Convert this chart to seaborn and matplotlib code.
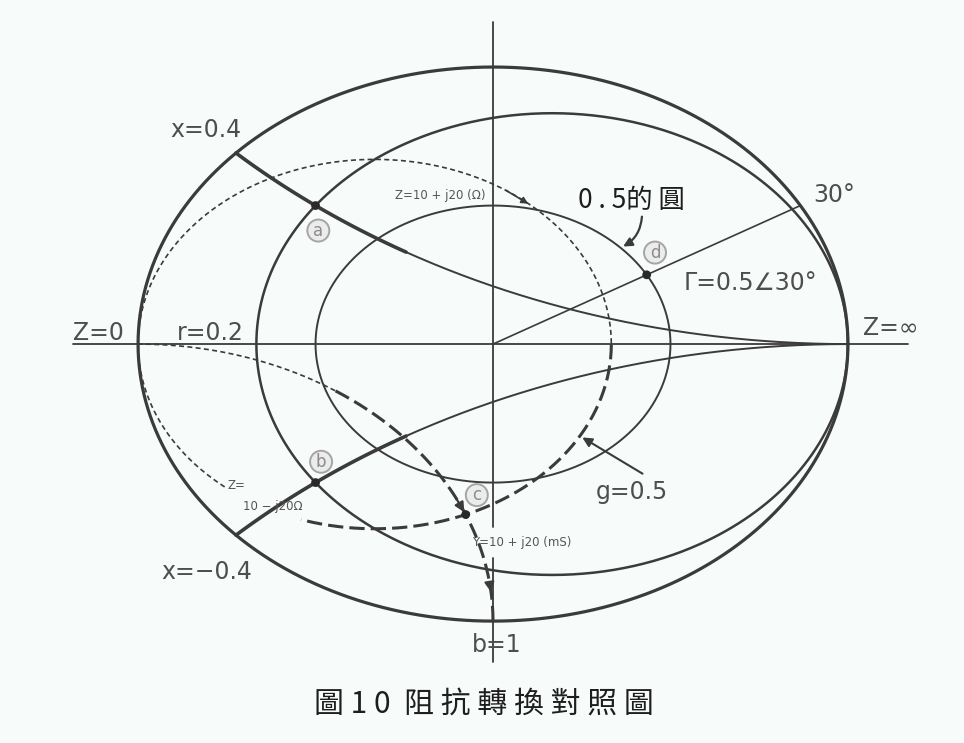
import numpy as np
import matplotlib
matplotlib.use("Agg")
import matplotlib.pyplot as plt
import seaborn as sns

# ---- Smith-chart quantities shown in the figure ----
Z0 = 50.0                                  # reference impedance (Ω)
resistance_values = [0.2]                  # normalised r circles
reactance_values = [0.4, -0.4]             # normalised x arcs
conductance_values = [0.5]                 # normalised g circles (admittance side)
susceptance_values = [1.0]                 # normalised b arcs (admittance side)
gamma_magnitude = 0.5                      # |Γ| circle
gamma_angle_deg = 30                       # angle of Γ for point d
Z_a = complex(10, 20)                      # Ω
Z_b = complex(10, -20)                     # Ω
Y_c = complex(10e-3, 20e-3)                # S

LINE = "#3b3b3b"
TEXT = "#4e4e4e"
BG = "#f7fbf9"


def z_to_gamma(z):
    return (z - 1) / (z + 1)


def y_to_gamma(y):
    return (1 - y) / (1 + y)


def curve(ax, g, **kw):
    kw.setdefault("color", LINE)
    sns.lineplot(x=np.real(g), y=np.imag(g), sort=False, estimator=None,
                 legend=False, ax=ax, **kw)


sns.set_theme(style="white")
plt.rcParams["font.family"] = ["DejaVu Sans"]

fig = plt.figure(figsize=(9.64, 7.43), dpi=100, facecolor=BG)
ax = fig.add_axes([0, 0, 1, 1])
ax.set_facecolor(BG)
ax.set_xlim(-1.389, 1.327)
ax.set_ylim(-1.440, 1.242)
ax.axis("off")

# real axis and imaginary axis
curve(ax, np.array([-1.183, 1.169]) + 0j, lw=1.3)
curve(ax, 1j * np.array([1.162, -0.661]), lw=1.3)
curve(ax, 1j * np.array([-0.773, -1.148]), lw=1.3)

# |Γ| = 1 boundary
th = np.linspace(0, 2 * np.pi, 721)
curve(ax, np.exp(1j * th), lw=2.3)

# constant-resistance circles
for r in resistance_values:
    curve(ax, r / (1 + r) + np.exp(1j * th) / (1 + r), lw=1.8)

# |Γ| = 0.5 circle
curve(ax, gamma_magnitude * np.exp(1j * th), lw=1.4)

# constant-reactance arcs (heavy near the chart edge)
r_near = np.linspace(0, 0.5, 80)
r_far = np.concatenate([np.linspace(0.5, 5, 200), np.geomspace(5, 1e4, 200)])
for x in reactance_values:
    curve(ax, z_to_gamma(r_near + 1j * x), lw=2.6)
    curve(ax, z_to_gamma(r_far + 1j * x), lw=1.4)

# 30° radial line
ang = np.deg2rad(gamma_angle_deg)
curve(ax, np.array([0, np.exp(1j * ang)]), lw=1.2)

# constant-conductance circle (admittance side)
thin_dash = (0, (3, 2))
heavy_dash = (0, (5, 2))
b_neg = -np.concatenate([np.geomspace(1e4, 5, 200), np.linspace(5, 0, 200)])
b_mid = np.linspace(0, 2.07, 150)
b_end = np.concatenate([np.linspace(3.17, 20, 150), np.geomspace(20, 1e4, 100)])
for g in conductance_values:
    curve(ax, y_to_gamma(g + 1j * b_neg), lw=1.2, linestyle=thin_dash)
    curve(ax, y_to_gamma(g + 1j * b_mid), lw=2.2, linestyle=heavy_dash)
    curve(ax, y_to_gamma(g + 1j * b_end), lw=1.2, linestyle=thin_dash)

# constant-susceptance arc (admittance side)
g_near = np.linspace(0, 2.3, 150)
g_far = np.concatenate([np.linspace(2.3, 20, 150), np.geomspace(20, 1e4, 100)])
for b in susceptance_values:
    curve(ax, y_to_gamma(g_near + 1j * b), lw=2.2, linestyle=heavy_dash)
    curve(ax, y_to_gamma(g_far + 1j * b), lw=1.2, linestyle=thin_dash)

# marked points
ga = z_to_gamma(Z_a / Z0)
gb = z_to_gamma(Z_b / Z0)
gc = y_to_gamma(Y_c * Z0)
gd = gamma_magnitude * np.exp(1j * ang)
pts = [ga, gb, gc, gd]
sns.scatterplot(x=np.real(pts), y=np.imag(pts), s=40, color="#2a2a2a",
                edgecolor="none", legend=False, ax=ax, zorder=5)

# circled letters beside the points
for p, letter, off in zip(pts, ["a", "b", "c", "d"],
                          [(2, -18), (4, 15), (8, 14), (6, 16)]):
    ax.annotate(letter, (p.real, p.imag), xytext=off, textcoords="offset points",
                ha="center", va="center", fontsize=12, color="#8c8c8c",
                bbox=dict(boxstyle="circle,pad=0.12", fc="#ececec",
                          ec="#a5a5a5", lw=1.4))

# arrows along the admittance curves
b1 = susceptance_values[0]
for g_from, g_to in [(0.62, 0.5), (0.16, 0.1)]:
    ax.annotate("", xy=(y_to_gamma(g_to + 1j * b1).real, y_to_gamma(g_to + 1j * b1).imag),
                xytext=(y_to_gamma(g_from + 1j * b1).real, y_to_gamma(g_from + 1j * b1).imag),
                arrowprops=dict(arrowstyle="-|>", color=LINE, lw=1.6,
                                mutation_scale=14))

# label texts
lab = dict(fontsize=17, color=TEXT, ha="center", va="center")
ax.text(-0.808, 0.773, "x=0.4", **lab)
ax.text(-1.113, 0.040, "Z=0", **lab)
ax.text(-0.797, 0.040, "r=0.2", **lab)
ax.text(-0.806, -0.823, "x=\u22120.4", **lab)
ax.text(0.011, -1.087, "b=1", **lab)
ax.text(0.392, -0.534, "g=0.5", **lab)
ax.text(0.724, 0.220, "\u0393=0.5\u222030\u00b0", **lab)
ax.text(0.961, 0.538, "30\u00b0", **lab)
ax.text(1.121, 0.058, "Z=\u221e", **lab)

small = dict(fontsize=8.5, color="#555555", ha="center", va="center")
ax.text(-0.149, 0.538, "Z=10 + j20 (\u03a9)", **small)
ax.text(-0.724, -0.509, "Z=", **small)
ax.text(-0.620, -0.585, "10 \u2212 j20\u03a9", **small)
ax.text(0.082, -0.718, "Y=10 + j20 (mS)", **small)

# pointer arrows
g05 = conductance_values[0]
tip_g = y_to_gamma(g05 + 0.4j)
ax.annotate("", xy=(tip_g.real, tip_g.imag), xytext=(0.428, -0.473),
            arrowprops=dict(arrowstyle="-|>", color=LINE, lw=1.5, mutation_scale=14))
tip_z = y_to_gamma(g05 - 0.68j)
ax.annotate("", xy=(tip_z.real, tip_z.imag), xytext=(0.030, 0.560),
            arrowprops=dict(arrowstyle="-|>", color=LINE, lw=1.2, mutation_scale=10))
tip_c = gamma_magnitude * np.exp(1j * np.deg2rad(44))
ax.annotate("", xy=(tip_c.real, tip_c.imag), xytext=(0.420, 0.470),
            arrowprops=dict(arrowstyle="-|>", color=LINE, lw=1.6, mutation_scale=13,
                            connectionstyle="arc3,rad=-0.3"))

cjk = ["Noto Sans CJK TC", "DejaVu Sans"]
ax.text(0.389, 0.520, "0 . 5的 圓", fontsize=19, color="#1e1e1e",
        ha="center", va="center", family=cjk)
ax.text(-0.025, -1.300, "圖 1 0  阻 抗 轉 換 對 照 圖", fontsize=21.5, color="#1e1e1e",
        ha="center", va="center", family=cjk)

fig.savefig("out.png", dpi=100, facecolor=BG)
